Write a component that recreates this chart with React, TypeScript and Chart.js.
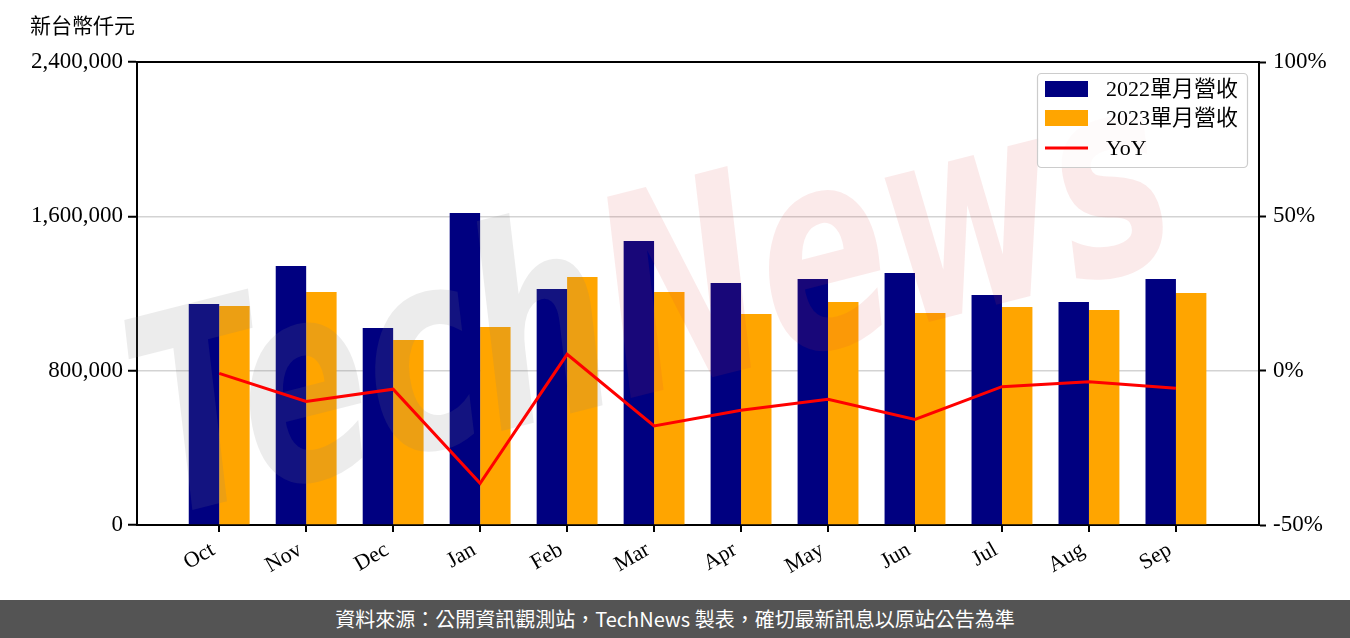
import React, { useEffect, useRef } from "react";
import { Chart, registerables } from "chart.js";

Chart.register(...registerables);

const categories = ["Oct", "Nov", "Dec", "Jan", "Feb", "Mar", "Apr", "May", "Jun", "Jul", "Aug", "Sep"];
const rev2022 = [1145000, 1343000, 1021000, 1617000, 1223000, 1472000, 1255000, 1275000, 1306000, 1192000, 1156000, 1275000];
const rev2023 = [1135000, 1208000, 959000, 1026000, 1286000, 1208000, 1094000, 1156000, 1099000, 1130000, 1115000, 1203000];
const yoyPct = [-0.9, -10.0, -6.0, -36.5, 5.3, -17.9, -12.8, -9.3, -15.8, -5.2, -3.6, -5.7];
const leftTicks = [0, 800000, 1600000, 2400000];
const rightTicks = [-50, 0, 50, 100];

const seriesNames = ["2022單月營收", "2023單月營收", "YoY"];
const seriesColors = ["#000080", "#FFA500", "#FF0000"];

const SERIF = "'Liberation Serif', 'Noto Sans CJK TC', serif";

const extrasPlugin = {
  id: "extras",
  afterDatasetDraw(chart: any, args: any) {
    // dataset 1 (2022 bars) is the last bar dataset drawn
    if (args.index !== 1) return;
    const ctx = chart.ctx;
    ctx.save();
    ctx.translate(655, 318);
    ctx.rotate(-0.25);
    ctx.scale(1, 1.45);
    ctx.font = "italic bold 190px 'DejaVu Sans'";
    ctx.textBaseline = "middle";
    const w1 = ctx.measureText("Tech").width;
    const w2 = ctx.measureText("News").width;
    const start = -(w1 + w2) / 2;
    ctx.textAlign = "left";
    ctx.fillStyle = "rgba(128,128,128,0.15)";
    ctx.fillText("Tech", start, 0);
    ctx.fillStyle = "rgba(220,60,60,0.11)";
    ctx.fillText("News", start + w1, 0);
    ctx.restore();
  },
  afterDraw(chart: any) {
    const ctx = chart.ctx;
    const a = chart.chartArea;
    ctx.save();
    ctx.strokeStyle = "#000";
    ctx.lineWidth = 2;
    ctx.beginPath();
    ctx.moveTo(a.left - 1, a.top);
    ctx.lineTo(a.right + 1, a.top);
    ctx.stroke();
    ctx.fillStyle = "#000";
    ctx.font = "21px " + SERIF;
    ctx.textBaseline = "middle";
    ctx.textAlign = "left";
    ctx.fillText("新台幣仟元", 30, 27);
    const bx = 1037, by = 73, bw = 210, bh = 94;
    ctx.fillStyle = "rgba(255,255,255,0.8)";
    ctx.strokeStyle = "#cccccc";
    ctx.lineWidth = 1.2;
    ctx.beginPath();
    ctx.roundRect(bx + 0.5, by + 0.5, bw, bh, 4);
    ctx.fill();
    ctx.stroke();
    ctx.font = "22px " + SERIF;
    const rows = [89, 118, 148];
    for (let i = 0; i < 3; i++) {
      const cy = rows[i];
      if (i < 2) {
        ctx.fillStyle = seriesColors[i];
        ctx.fillRect(1045, cy - 8, 43, 16);
      } else {
        ctx.strokeStyle = seriesColors[i];
        ctx.lineWidth = 3;
        ctx.beginPath();
        ctx.moveTo(1045, cy);
        ctx.lineTo(1088, cy);
        ctx.stroke();
      }
      ctx.fillStyle = "#000";
      ctx.fillText(seriesNames[i], 1106, cy + 1);
    }
    ctx.restore();
  },
};

export default function App() {
  const ref = useRef<HTMLCanvasElement | null>(null);
  useEffect(() => {
    if (!ref.current) return;
    const chart = new Chart(ref.current, {
      type: "bar",
      data: {
        datasets: [
          {
            type: "line",
            label: seriesNames[2],
            data: yoyPct.map((v, i) => ({ x: i, y: v })),
            borderColor: seriesColors[2],
            borderWidth: 3,
            pointRadius: 0,
            tension: 0,
            yAxisID: "y1",
          } as any,
          {
            label: seriesNames[0],
            data: rev2022.map((v, i) => ({ x: i, y: v })),
            backgroundColor: seriesColors[0],
            categoryPercentage: 0.7,
            barPercentage: 1.0,
            yAxisID: "y",
          },
          {
            label: seriesNames[1],
            data: rev2023.map((v, i) => ({ x: i, y: v })),
            backgroundColor: seriesColors[1],
            categoryPercentage: 0.7,
            barPercentage: 1.0,
            yAxisID: "y",
          },
        ],
      },
      options: {
        responsive: false,
        animation: false,
        layout: { padding: { top: 62, left: 0, right: 0, bottom: 0 } },
        plugins: { legend: { display: false }, tooltip: { enabled: false } },
        scales: {
          x: {
            type: "linear",
            offset: false,
            min: -0.945,
            max: 11.955,
            afterBuildTicks: (s: any) => {
              s.ticks = categories.map((_, i) => ({ value: i }));
            },
            afterFit: (s: any) => {
              s.height = 75;
            },
            ticks: {
              callback: (v: any) => categories[v as number] ?? "",
              minRotation: 30,
              maxRotation: 30,
              autoSkip: false,
              color: "#000",
              padding: 5,
              labelOffset: -6,
              font: { family: SERIF, size: 22 },
            },
            grid: { offset: false, drawOnChartArea: false, drawTicks: true, tickLength: 7, tickColor: "#000", lineWidth: 2 },
            border: { display: true, color: "#000", width: 2 },
          },
          y: {
            position: "left",
            min: 0,
            max: 2400000,
            afterBuildTicks: (s: any) => {
              s.ticks = leftTicks.map((v) => ({ value: v }));
            },
            afterFit: (s: any) => {
              s.width = 137;
            },
            ticks: {
              callback: (v: any) => Number(v).toLocaleString("en-US"),
              color: "#000",
              padding: 5,
              font: { family: SERIF, size: 23 },
            },
            grid: {
              color: (c: any) =>
                c.tick && (c.tick.value === 0 || c.tick.value === 2400000) ? "rgba(0,0,0,0)" : "#d3d3d3",
              lineWidth: 1.5,
              tickColor: "#000",
              tickLength: 9,
              tickWidth: 2,
            },
            border: { display: true, color: "#000", width: 2 },
          },
          y1: {
            position: "right",
            min: -50,
            max: 100,
            afterBuildTicks: (s: any) => {
              s.ticks = rightTicks.map((v) => ({ value: v }));
            },
            afterFit: (s: any) => {
              s.width = 91;
            },
            ticks: {
              callback: (v: any) => v + "%",
              color: "#000",
              padding: 7,
              font: { family: SERIF, size: 23 },
            },
            grid: { drawOnChartArea: false, tickColor: "#000", tickLength: 7, tickWidth: 2 },
            border: { display: true, color: "#000", width: 2 },
          },
        },
      },
      plugins: [extrasPlugin],
    });
    return () => chart.destroy();
  }, []);

  return (
    <div style={{ position: "fixed", left: 0, top: 0, width: 1350, height: 638, background: "#fff" }}>
      <canvas ref={ref} width={1350} height={600} style={{ display: "block", width: 1350, height: 600 }} />
      <div
        style={{
          height: 38,
          background: "#545454",
          color: "#fff",
          fontFamily: "'Noto Sans CJK TC', sans-serif",
          fontSize: 20,
          lineHeight: "38px",
          textAlign: "center",
        }}
      >
        資料來源：公開資訊觀測站，TechNews 製表，確切最新訊息以原站公告為準
      </div>
    </div>
  );
}
